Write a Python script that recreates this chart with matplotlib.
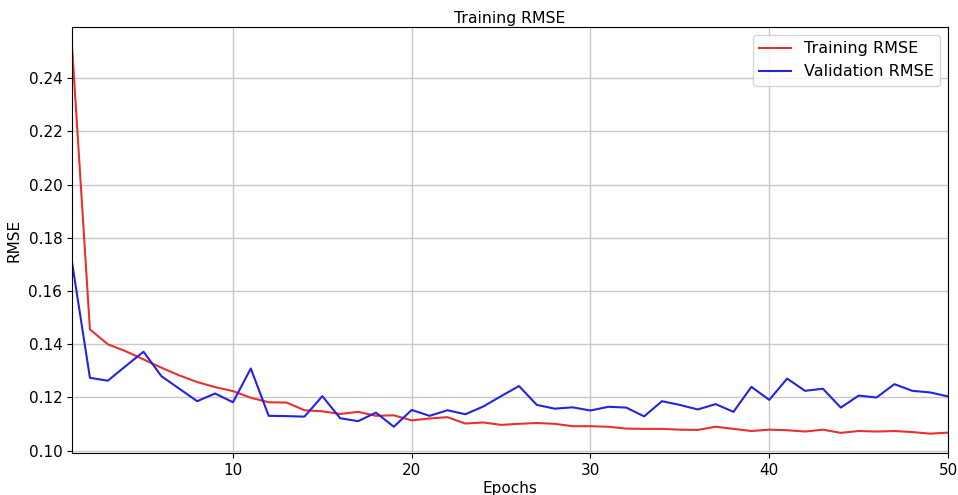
import matplotlib
matplotlib.use("Agg")
import matplotlib.pyplot as plt
import numpy as np

epochs = np.arange(1, 51)

train_rmse = [
    0.2520, 0.1456, 0.1400, 0.1374, 0.1343, 0.1312, 0.1283, 0.1258, 0.1239, 0.1224,
    0.1199, 0.1182, 0.1181, 0.1152, 0.1148, 0.1138, 0.1146, 0.1131, 0.1133, 0.1114,
    0.1121, 0.1126, 0.1102, 0.1106, 0.1097, 0.1101, 0.1104, 0.1101, 0.1092, 0.1092,
    0.1090, 0.1083, 0.1082, 0.1082, 0.1079, 0.1078, 0.1090, 0.1082, 0.1074, 0.1079,
    0.1077, 0.1072, 0.1079, 0.1067, 0.1074, 0.1072, 0.1074, 0.1070, 0.1064, 0.1068,
]

val_rmse = [
    0.1708, 0.1274, 0.1263, 0.1318, 0.1372, 0.1280, 0.1233, 0.1186, 0.1215, 0.1182,
    0.1309, 0.1131, 0.1130, 0.1128, 0.1205, 0.1122, 0.1111, 0.1143, 0.1090, 0.1153,
    0.1131, 0.1152, 0.1137, 0.1166, 0.1205, 0.1243, 0.1172, 0.1158, 0.1163, 0.1151,
    0.1165, 0.1162, 0.1129, 0.1186, 0.1172, 0.1155, 0.1175, 0.1146, 0.1240, 0.1191,
    0.1271, 0.1225, 0.1233, 0.1162, 0.1207, 0.1200, 0.1250, 0.1225, 0.1219, 0.1204,
]

fig = plt.figure(figsize=(9.58, 4.95), dpi=100)
ax = fig.add_axes([0.0752, 0.0848, 0.9144, 0.8607])

ax.plot(epochs, train_rmse, color="#e8302f", linewidth=1.5, label="Training RMSE")
ax.plot(epochs, val_rmse, color="#2424e0", linewidth=1.5, label="Validation RMSE")

ax.set_xlim(1, 50)
ax.set_xticks([10, 20, 30, 40, 50])
ax.set_yticks(np.arange(0.10, 0.25, 0.02))
ax.grid(True, color="#c8c8c8", linewidth=1.0)
ax.tick_params(labelsize=11)

ax.set_title("Training RMSE", fontsize=11.3, pad=3)
ax.set_xlabel("Epochs", fontsize=11, labelpad=2)
ax.set_ylabel("RMSE", fontsize=11, labelpad=5)
ax.legend(loc="upper right", fontsize=11.5)

fig.savefig("out.png", dpi=100)
